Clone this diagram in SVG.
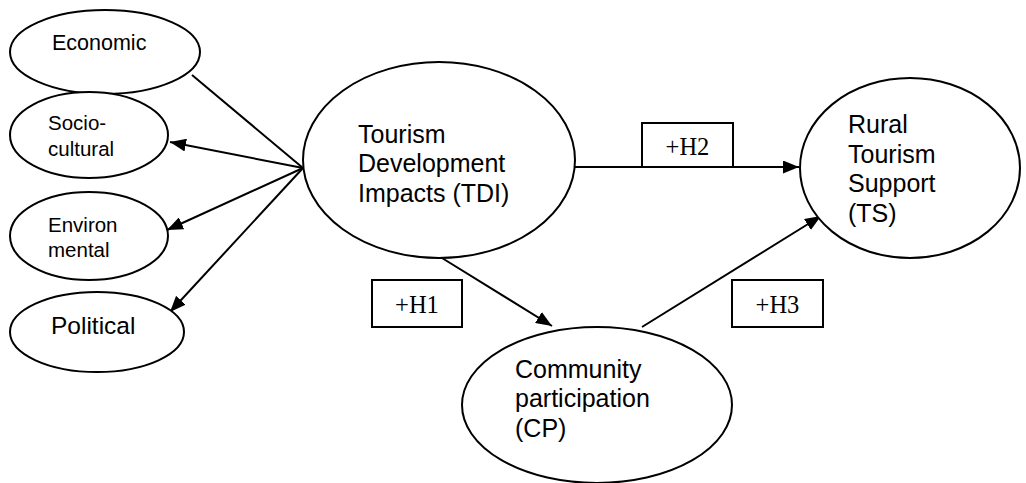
<svg xmlns="http://www.w3.org/2000/svg" width="1026" height="483" viewBox="0 0 1026 483">
<defs>
<marker id="ah" viewBox="0 0 16 13" refX="16" refY="6.5" markerWidth="16" markerHeight="13" markerUnits="userSpaceOnUse" orient="auto">
<path d="M0,0 L16,6.5 L0,13 Z" fill="#000"/>
</marker>
</defs>
<style>
.node{fill:#fff;stroke:#000;stroke-width:2}
.t{font-family:"Liberation Sans",Arial,sans-serif;fill:#000}
.lbl{font-family:"Liberation Serif","Times New Roman",serif;font-size:24.5px;fill:#000}
.c{fill:none;stroke:#000;stroke-width:2}
.box{fill:#fff;stroke:#000;stroke-width:2}
</style>
<rect width="1026" height="483" fill="#fff"/>
<g id="connectors">
<line class="c" x1="303" y1="168" x2="192" y2="75"/>
<line class="c" x1="303" y1="168" x2="170" y2="142" marker-end="url(#ah)"/>
<line class="c" x1="303" y1="168" x2="167" y2="230" marker-end="url(#ah)"/>
<line class="c" x1="303" y1="168" x2="170" y2="312" marker-end="url(#ah)"/>
<line class="c" x1="575" y1="167" x2="799" y2="167" marker-end="url(#ah)"/>
<line class="c" x1="442" y1="258" x2="552" y2="326" marker-end="url(#ah)"/>
<line class="c" x1="642" y1="327" x2="821" y2="216" marker-end="url(#ah)"/>
</g>
<g id="economic">
<ellipse class="node" cx="105" cy="52" rx="95" ry="42"/>
<text class="t" x="52" y="50" font-size="21.5">Economic</text>
</g>
<g id="sociocultural">
<ellipse class="node" cx="89" cy="135" rx="79" ry="43"/>
<text class="t" x="48" y="130" font-size="20.5">Socio-</text>
<text class="t" x="48" y="156" font-size="20.5">cultural</text>
</g>
<g id="environmental">
<ellipse class="node" cx="89" cy="236" rx="79" ry="44"/>
<text class="t" x="48" y="232" font-size="20.5">Environ</text>
<text class="t" x="48" y="257" font-size="20.5">mental</text>
</g>
<g id="political">
<ellipse class="node" cx="97" cy="332" rx="87" ry="40"/>
<text class="t" x="51" y="334" font-size="24.5">Political</text>
</g>
<g id="tdi">
<ellipse class="node" cx="439" cy="160" rx="136" ry="98"/>
<text class="t" x="358" y="143" font-size="25">Tourism</text>
<text class="t" x="358" y="172" font-size="25">Development</text>
<text class="t" x="358" y="202" font-size="25">Impacts (TDI)</text>
</g>
<g id="ts">
<ellipse class="node" cx="910" cy="168" rx="110" ry="90"/>
<text class="t" x="848" y="133" font-size="25">Rural</text>
<text class="t" x="848" y="163" font-size="25">Tourism</text>
<text class="t" x="848" y="192" font-size="25">Support</text>
<text class="t" x="848" y="222" font-size="25">(TS)</text>
</g>
<g id="cp">
<ellipse class="node" cx="597" cy="405" rx="135" ry="78"/>
<text class="t" x="515" y="378" font-size="25">Community</text>
<text class="t" x="515" y="407" font-size="25">participation</text>
<text class="t" x="515" y="437" font-size="25">(CP)</text>
</g>
<g id="h2">
<rect class="box" x="642" y="123" width="91" height="44"/>
<text class="lbl" x="687.5" y="155" text-anchor="middle">+H2</text>
</g>
<g id="h1">
<rect class="box" x="372" y="280" width="90" height="47"/>
<text class="lbl" x="417" y="313" text-anchor="middle">+H1</text>
</g>
<g id="h3">
<rect class="box" x="732" y="280" width="91" height="47"/>
<text class="lbl" x="777.5" y="313" text-anchor="middle">+H3</text>
</g>
</svg>
